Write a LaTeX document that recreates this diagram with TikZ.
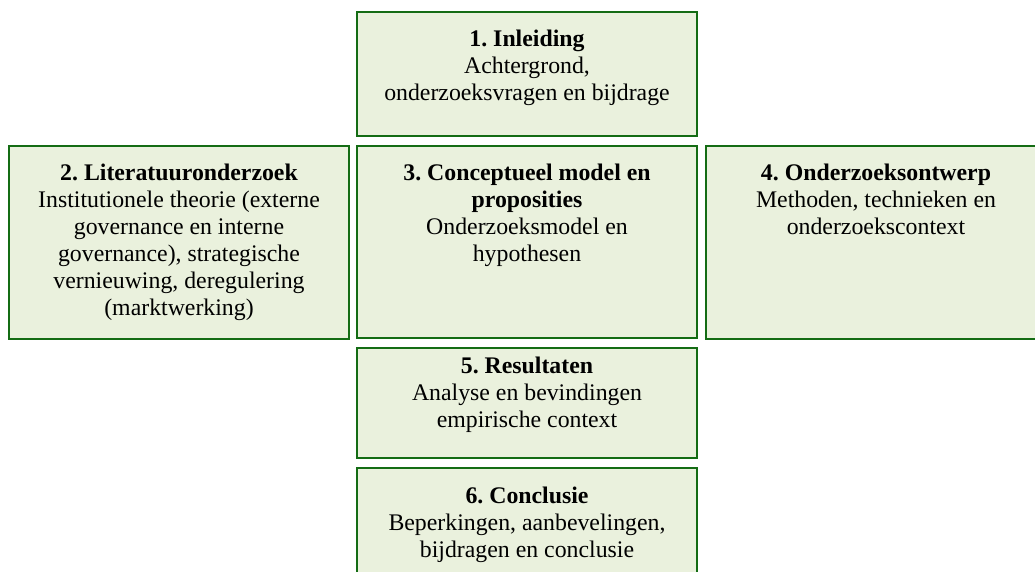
\documentclass[tikz,border=0pt]{standalone}
\usepackage{fontspec}
\setmainfont{Liberation Serif}
\frenchspacing
\definecolor{boxfill}{HTML}{EAF1DD}
\definecolor{boxline}{RGB}{20,108,20}
\begin{document}
\begin{tikzpicture}[x=1pt,y=-1pt,
  chapter/.style={draw=boxline,fill=boxfill,line width=2.2pt,inner sep=0pt,outer sep=0pt},
  chaptertext/.style={anchor=north,align=center,inner sep=0pt,
    font=\fontsize{23.8}{27}\selectfont}]
\useasboundingbox (0,0) rectangle (1035,571);
\clip (0,0) rectangle (1035,571);

% chapter boxes
\node[chapter,minimum width=340pt,minimum height=124pt] (b1) at (527,74) {};
\node[chapter,minimum width=340pt,minimum height=193pt] (b2) at (179,242.5) {};
\node[chapter,minimum width=340pt,minimum height=192pt] (b3) at (527,242) {};
\node[chapter,minimum width=340pt,minimum height=193pt] (b4) at (876,242.5) {};
\node[chapter,minimum width=340pt,minimum height=110pt] (b5) at (527,403) {};
\node[chapter,minimum width=340pt,minimum height=140pt] (b6) at (527,538) {};

% chapter titles and contents
\node[chaptertext] (t1) at (527,29.7) {\textbf{1. Inleiding}\\Achtergrond,\\onderzoeksvragen en bijdrage};
\node[chaptertext] (t2) at (179,163.7) {\textbf{2. Literatuuronderzoek}\\Institutionele theorie (externe\\governance en interne\\governance), strategische\\vernieuwing, deregulering\\(marktwerking)};
\node[chaptertext] (t3) at (527,163.7) {\textbf{3. Conceptueel model en}\\\textbf{proposities}\\Onderzoeksmodel en\\hypothesen};
\node[chaptertext] (t4) at (876,163.7) {\textbf{4. Onderzoeksontwerp}\\Methoden, technieken en\\onderzoekscontext};
\node[chaptertext] (t5) at (527,356.7) {\textbf{5. Resultaten}\\Analyse en bevindingen\\empirische context};
\node[chaptertext] (t6) at (527,486.7) {\textbf{6. Conclusie}\\Beperkingen, aanbevelingen,\\bijdragen en conclusie};
\end{tikzpicture}
\end{document}
